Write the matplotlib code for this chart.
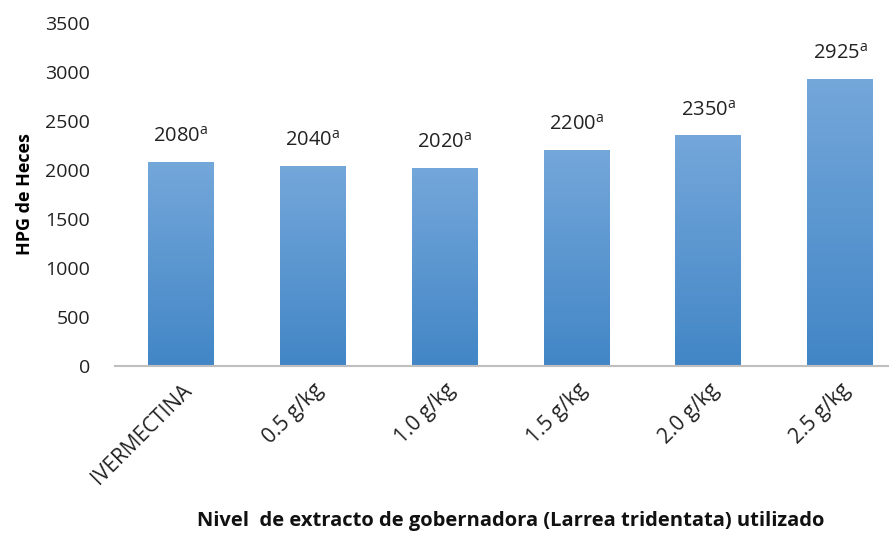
import numpy as np
import matplotlib.pyplot as plt
from matplotlib.colors import LinearSegmentedColormap

# Huevos por gramo de heces segun tratamiento
tratamientos = ['IVERMECTINA', '0.5 g/kg', '1.0 g/kg', '1.5 g/kg', '2.0 g/kg', '2.5 g/kg']
hpg = [2080, 2040, 2020, 2200, 2350, 2925]
letras = ['a', 'a', 'a', 'a', 'a', 'a']

plt.rcParams['font.family'] = ['Open Sans', 'DejaVu Sans']
plt.rcParams['mathtext.fontset'] = 'custom'
plt.rcParams['mathtext.rm'] = 'Open Sans'

fig = plt.figure(figsize=(8.89, 5.33), dpi=100)
ax = fig.add_axes([115 / 889, 1 - 366 / 533, 1 - 115 / 889, 343 / 533])

x = np.arange(len(tratamientos))
ancho = 0.5
grad = LinearSegmentedColormap.from_list('azul', ['#4286c6', '#74a7da'])
fondo = np.linspace(0, 1, 256).reshape(-1, 1)

for xi, v, l in zip(x, hpg, letras):
    ax.imshow(fondo, cmap=grad, origin='lower', aspect='auto',
              extent=(xi - ancho / 2, xi + ancho / 2, 0, v), zorder=2)
    ax.annotate(f'{v}$^{{\\mathrm{{{l}}}}}$', (xi, v), xytext=(0, 11), textcoords='offset points',
                ha='center', va='bottom', fontsize=14.5, color='#222222')

ax.set_xlim(-0.5, 5.37)
ax.set_ylim(0, 3500)
ax.set_yticks(range(0, 3501, 500))
ax.set_xticks(x)
ax.set_xticklabels(tratamientos, rotation=45, ha='right', rotation_mode='anchor',
                   fontsize=15, color='#222222')
ax.tick_params(axis='x', length=0, pad=10)
ax.tick_params(axis='y', length=0, pad=18, labelsize=14, labelcolor='#222222')
for s in ['top', 'right', 'left']:
    ax.spines[s].set_visible(False)
ax.spines['bottom'].set_color('#bfbfbf')
ax.spines['bottom'].set_linewidth(1.5)
ax.spines['bottom'].set_zorder(3)

ax.set_ylabel('HPG de Heces', fontsize=13, fontweight='bold', labelpad=8)
fig.text(0.575, 0.003, 'Nivel  de extracto de gobernadora (Larrea tridentata) utilizado',
         ha='center', va='bottom', fontsize=14.5, fontweight='bold', color='#111111')

fig.savefig('out.png', dpi=100)
